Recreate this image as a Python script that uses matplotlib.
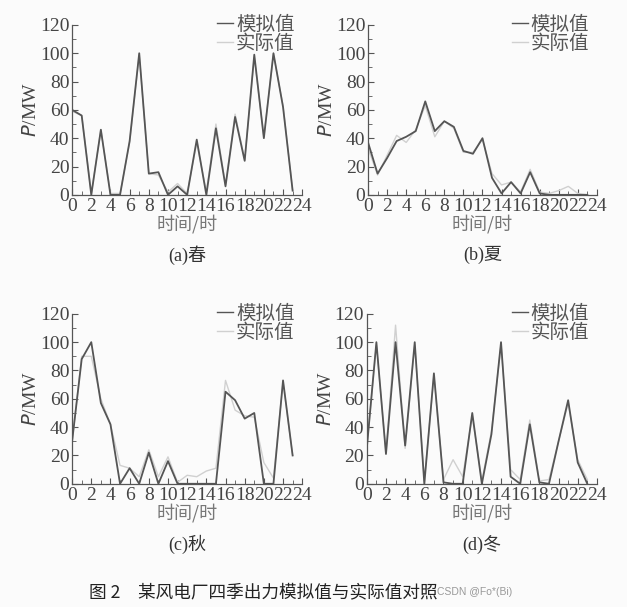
import matplotlib.pyplot as plt
from matplotlib.ticker import MultipleLocator

plt.rcParams['font.family'] = ['Liberation Serif', 'Noto Sans CJK SC']

hours = list(range(24))

spring_sim = [60, 56, 0, 46, 0, 0, 38, 100, 15, 16, 0, 6, 0, 39, 0, 47, 6, 55, 24, 99, 40, 100, 62, 3]
spring_act = [59, 56, 1, 46, 1, 1, 37, 99, 15, 14, 2, 8, 1, 37, 2, 50, 7, 57, 25, 97, 41, 99, 63, 3]

summer_sim = [37, 15, 26, 38, 41, 45, 66, 45, 52, 48, 31, 29, 40, 12, 1, 9, 1, 16, 1, 0, 0, 0, 0, 0]
summer_act = [33, 14, 28, 42, 37, 46, 63, 41, 52, 47, 30, 30, 39, 15, 7, 9, 2, 18, 2, 1, 3, 6, 1, 0]

autumn_sim = [30, 88, 100, 57, 42, 0, 11, 0, 22, 0, 16, 0, 0, 0, 0, 0, 65, 59, 46, 50, 0, 0, 73, 20]
autumn_act = [30, 90, 90, 60, 42, 13, 11, 5, 24, 5, 19, 1, 6, 5, 9, 11, 73, 52, 48, 47, 15, 4, 72, 20]

winter_sim = [25, 100, 21, 100, 27, 100, 0, 78, 1, 0, 0, 50, 0, 35, 100, 5, 0, 42, 1, 0, 30, 59, 15, 0]
winter_act = [26, 98, 22, 112, 25, 98, 2, 76, 3, 17, 5, 48, 2, 37, 98, 10, 3, 45, 2, 3, 30, 57, 17, 3]

panels = [
    ('(a)春', spring_sim, spring_act, [0.115, 0.679, 0.367, 0.280]),
    ('(b)夏', summer_sim, summer_act, [0.587, 0.679, 0.365, 0.280]),
    ('(c)秋', autumn_sim, autumn_act, [0.115, 0.203, 0.367, 0.280]),
    ('(d)冬', winter_sim, winter_act, [0.585, 0.203, 0.367, 0.280]),
]

fig = plt.figure(figsize=(6.27, 6.07), dpi=100)
fig.patch.set_facecolor('#fbfbfb')

for name, sim, act, pos in panels:
    ax = fig.add_axes(pos)
    ax.set_facecolor('#fbfbfb')
    ax.plot(hours, act, color='#d0d0d0', lw=1.0, label='实际值', zorder=2)
    ax.plot(hours, sim, color='#555555', lw=1.3, label='模拟值', zorder=3)
    ax.set_xlim(0, 24)
    ax.set_ylim(0, 120)
    ax.xaxis.set_major_locator(MultipleLocator(2))
    ax.xaxis.set_minor_locator(MultipleLocator(1))
    ax.yaxis.set_major_locator(MultipleLocator(20))
    ax.yaxis.set_minor_locator(MultipleLocator(10))
    ax.tick_params(which='both', direction='in', color='#555555', labelcolor='#444444',
                   labelsize=14)
    ax.tick_params(axis='x', pad=2)
    ax.tick_params(axis='y', pad=2)
    ax.tick_params(which='major', length=4)
    ax.tick_params(which='minor', length=3)
    for s in ['top', 'right']:
        ax.spines[s].set_visible(False)
    for s in ['left', 'bottom']:
        ax.spines[s].set_color('#555555')
        ax.spines[s].set_linewidth(0.9)
    ax.set_ylabel('$P$/MW', fontsize=14, color='#444444', labelpad=0)
    ax.set_xlabel('时间/时', fontsize=13, color='#777777', labelpad=0,
                  family=['Noto Sans CJK SC'])
    ax.text(0.5, -0.3, name, transform=ax.transAxes, ha='center', va='top',
            fontsize=13, color='#333333', family=['Liberation Serif', 'Noto Sans CJK SC'])
    handles, labels = ax.get_legend_handles_labels()
    leg = ax.legend(handles[::-1], labels[::-1], loc='upper right', bbox_to_anchor=(1.0, 1.11),
                    frameon=False, handlelength=0.8, handletextpad=0.15, labelspacing=-0.1,
                    borderaxespad=0, prop={'family': 'Noto Sans CJK SC', 'size': 14})
    for t in leg.get_texts():
        t.set_color('#555555')
    for h in leg.legend_handles:
        h.set_linewidth(1.0)

fig.text(0.142, 0.025, '图 2　某风电厂四季出力模拟值与实际值对照', fontsize=12.7,
         family=['Noto Sans CJK SC'], color='#222222', ha='left', va='center')
fig.text(0.697, 0.025, 'CSDN @Fo*(Bi)', fontsize=7.5, family=['Liberation Sans'],
         color='#999999', ha='left', va='center')

fig.savefig('out.png', dpi=100, facecolor=fig.get_facecolor())
